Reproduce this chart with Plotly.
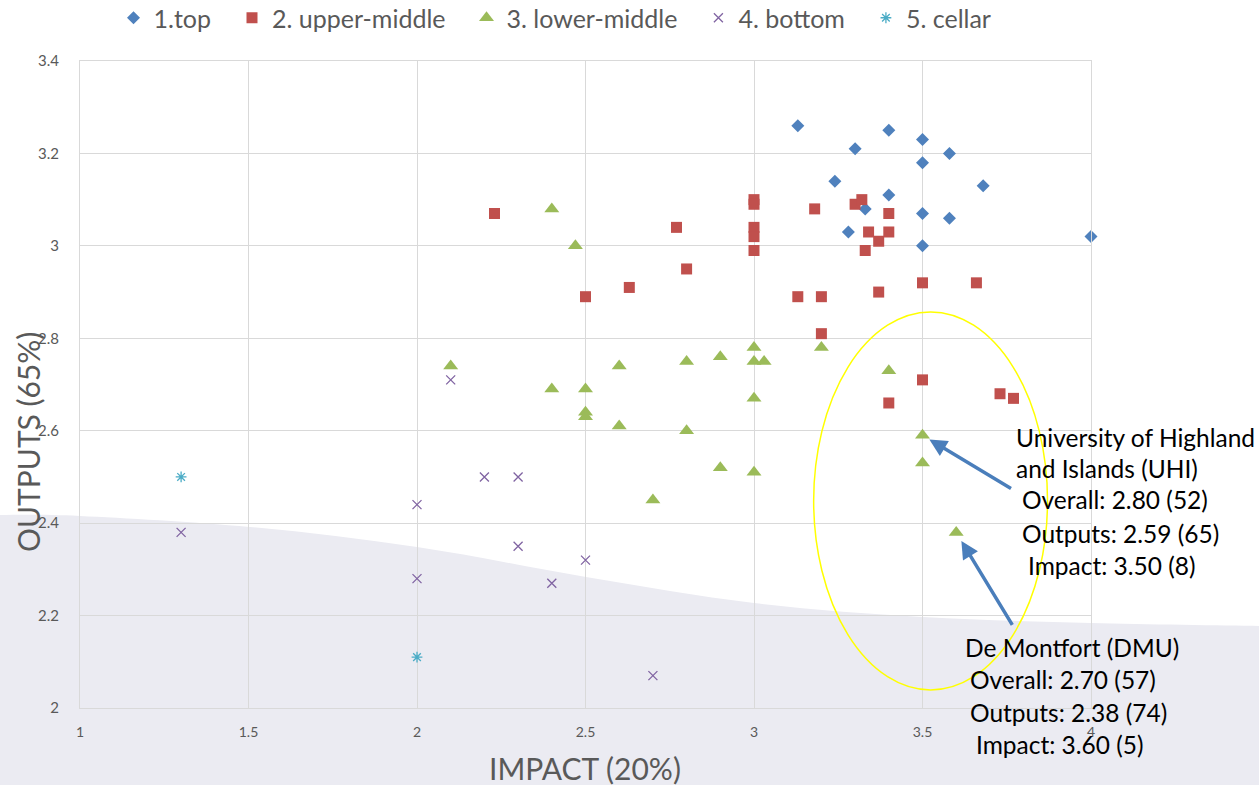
import plotly.graph_objects as go

# ---------------- data ----------------
top_x = [3.13, 3.40, 3.30, 3.50, 3.58, 3.50, 3.24, 3.68, 3.40, 3.33, 3.50, 3.58, 3.28, 4.00, 3.50]
top_y = [3.26, 3.25, 3.21, 3.23, 3.20, 3.18, 3.14, 3.13, 3.11, 3.08, 3.07, 3.06, 3.03, 3.02, 3.00]

upper_x = [2.23, 2.50, 2.63, 2.77, 2.80, 3.00, 3.00, 3.00, 3.00, 3.00, 3.13, 3.18, 3.20, 3.20,
           3.30, 3.32, 3.34, 3.33, 3.37, 3.37, 3.40, 3.40, 3.40, 3.50, 3.50, 3.66, 3.73, 3.77]
upper_y = [3.07, 2.89, 2.91, 3.04, 2.95, 3.10, 3.09, 3.04, 3.02, 2.99, 2.89, 3.08, 2.89, 2.81,
           3.09, 3.10, 3.03, 2.99, 3.01, 2.90, 3.07, 3.03, 2.66, 2.92, 2.71, 2.92, 2.68, 2.67]

lower_x = [2.10, 2.40, 2.40, 2.47, 2.50, 2.50, 2.50, 2.60, 2.60, 2.70, 2.80, 2.80,
           2.90, 2.90, 3.00, 3.00, 3.00, 3.00, 3.03, 3.20, 3.40, 3.50, 3.50, 3.60]
lower_y = [2.74, 3.08, 2.69, 3.00, 2.69, 2.64, 2.63, 2.74, 2.61, 2.45, 2.75, 2.60,
           2.76, 2.52, 2.78, 2.75, 2.67, 2.51, 2.75, 2.78, 2.73, 2.59, 2.53, 2.38]

bottom_x = [1.3, 2.0, 2.0, 2.1, 2.2, 2.3, 2.3, 2.4, 2.5, 2.7]
bottom_y = [2.38, 2.44, 2.28, 2.71, 2.50, 2.50, 2.35, 2.27, 2.32, 2.07]

cellar_x = [1.3, 2.0]
cellar_y = [2.50, 2.11]

series_names = ["1.top", "2. upper-middle", "3. lower-middle", "4. bottom", "5. cellar"]

x_ticks = [1, 1.5, 2, 2.5, 3, 3.5, 4]
x_tick_labels = ["1", "1.5", "2", "2.5", "3", "3.5", "4"]
y_ticks = [2, 2.2, 2.4, 2.6, 2.8, 3.0, 3.2, 3.4]
y_tick_labels = ["2", "2.2", "2.4", "2.6", "2.8", "3", "3.2", "3.4"]

uhi_lines = ["University of Highland", "and Islands (UHI)", "Overall: 2.80 (52)",
             "Outputs: 2.59 (65)", "Impact: 3.50 (8)"]
dmu_lines = ["De Montfort (DMU)", "Overall: 2.70 (57)", "Outputs: 2.38 (74)", "Impact: 3.60 (5)"]
uhi_point = (3.50, 2.59)
dmu_point = (3.60, 2.38)

# ---------------- layout geometry ----------------
W, H = 1259, 785
L, R, T, B = 80, 168, 61, 77
PW, PH = W - L - R, H - T - B


def px(xp):
    return (xp - L) / PW


def py(yp):
    return (H - B - yp) / PH


FONT = "Lato"
GREY = "#595959"

fig = go.Figure()

styles = [
    dict(symbol="diamond", size=10, color="#4f81bd"),
    dict(symbol="square", size=11, color="#c0504d"),
    dict(symbol="triangle-up", size=13, color="#9bbb59"),
    dict(symbol="x-thin-open", size=9, color="#8064a2", line=dict(width=1.3, color="#8064a2")),
    dict(symbol="asterisk-open", size=9, color="#4bacc6", line=dict(width=1.3, color="#4bacc6")),
]
data = [(top_x, top_y), (upper_x, upper_y), (lower_x, lower_y), (bottom_x, bottom_y), (cellar_x, cellar_y)]
for (xs, ys), name, st in zip(data, series_names, styles):
    mk = dict(symbol=st["symbol"], size=st["size"], color=st["color"])
    if "line" in st:
        mk["line"] = st["line"]
    else:
        mk["line"] = dict(width=0)
    fig.add_trace(go.Scatter(x=xs, y=ys, mode="markers", name=name, marker=mk, cliponaxis=False))

# background wave (slide decoration) - pixel outline converted to paper coords
wave_pts = [(-5, 515), (80, 516), (250, 527), (417, 547), (586, 577), (754, 603),
            (923, 617), (1091, 623), (1265, 626)]


def catmull(points):
    d = "M %.4f,%.4f" % (px(points[0][0]), py(points[0][1]))
    n = len(points)
    for i in range(n - 1):
        p0 = points[i - 1] if i > 0 else points[i]
        p1 = points[i]
        p2 = points[i + 1]
        p3 = points[i + 2] if i + 2 < n else points[i + 1]
        c1 = (p1[0] + (p2[0] - p0[0]) / 6, p1[1] + (p2[1] - p0[1]) / 6)
        c2 = (p2[0] - (p3[0] - p1[0]) / 6, p2[1] - (p3[1] - p1[1]) / 6)
        d += " C %.4f,%.4f %.4f,%.4f %.4f,%.4f" % (px(c1[0]), py(c1[1]), px(c2[0]), py(c2[1]),
                                                   px(p2[0]), py(p2[1]))
    d += " L %.4f,%.4f L %.4f,%.4f Z" % (px(1265), py(790), px(-5), py(790))
    return d


shapes = [
    dict(type="path", xref="paper", yref="paper", path=catmull(wave_pts),
         fillcolor="#ebebf2", line=dict(width=0), layer="below"),
    dict(type="circle", xref="x", yref="y", x0=3.177, x1=3.871, y0=2.039, y1=2.857,
         line=dict(color="#ffff00", width=1.5), layer="above"),
]

annotations = []
# axis titles
annotations.append(dict(text="IMPACT (20%)", xref="paper", yref="paper", x=px(585), y=py(768),
                        showarrow=False, font=dict(family=FONT, size=30, color=GREY),
                        xanchor="center", yanchor="middle"))
annotations.append(dict(text="OUTPUTS (65%)", xref="paper", yref="paper", x=px(28), y=py(442),
                        showarrow=False, textangle=-90, font=dict(family=FONT, size=30, color=GREY),
                        xanchor="center", yanchor="middle"))

uhi_pos = [(1014, 437), (1014, 468), (1020, 500), (1020, 533), (1026, 565)]
dmu_pos = [(963, 647), (968, 679), (968, 712), (974, 744)]
for txt, (x0, y0) in list(zip(uhi_lines, uhi_pos)) + list(zip(dmu_lines, dmu_pos)):
    annotations.append(dict(text=txt, xref="paper", yref="paper", x=px(x0), y=py(y0),
                            showarrow=False, xanchor="left", yanchor="middle",
                            font=dict(family=FONT, size=24.5, color="#000000")))

# arrows
annotations.append(dict(x=uhi_point[0], y=uhi_point[1], xref="x", yref="y", text="",
                        showarrow=True, ax=90, ay=54, arrowhead=2, arrowsize=1,
                        arrowwidth=3.5, arrowcolor="#4a7ebb", standoff=8))
annotations.append(dict(x=dmu_point[0], y=dmu_point[1], xref="x", yref="y", text="",
                        showarrow=True, ax=57, ay=94, arrowhead=2, arrowsize=1,
                        arrowwidth=3.5, arrowcolor="#4a7ebb", standoff=10))

fig.update_layout(
    width=W, height=H,
    margin=dict(l=L, r=R, t=T, b=B, pad=0, autoexpand=False),
    paper_bgcolor="#ffffff",
    plot_bgcolor="rgba(0,0,0,0)",
    font=dict(family=FONT, color=GREY),
    shapes=shapes,
    annotations=annotations,
    legend=dict(orientation="h", x=px(547), xanchor="center", y=py(18), yanchor="middle",
                font=dict(family=FONT, size=25, color=GREY), bgcolor="rgba(0,0,0,0)",
                itemwidth=30, tracegroupgap=0, indentation=16),
)
fig.update_xaxes(range=[1, 4], tickvals=x_ticks, ticktext=x_tick_labels,
                 showgrid=True, gridcolor="#d9d9d9", gridwidth=1.2,
                 showline=True, linecolor="#d9d9d9", linewidth=1.2, mirror=True,
                 zeroline=False, ticks="outside", ticklen=11, tickcolor="rgba(0,0,0,0)",
                 tickfont=dict(family=FONT, size=14, color=GREY))
fig.update_yaxes(range=[2, 3.4], tickvals=y_ticks, ticktext=y_tick_labels,
                 showgrid=True, gridcolor="#d9d9d9", gridwidth=1.2,
                 showline=True, linecolor="#d9d9d9", linewidth=1.2, mirror=True,
                 zeroline=False, ticks="outside", ticklen=17, tickcolor="rgba(0,0,0,0)",
                 tickfont=dict(family=FONT, size=15, color=GREY))

fig.write_html("out.html", config={"displayModeBar": False},
               post_script="document.body.style.margin='0px';document.body.style.overflow='hidden';")
